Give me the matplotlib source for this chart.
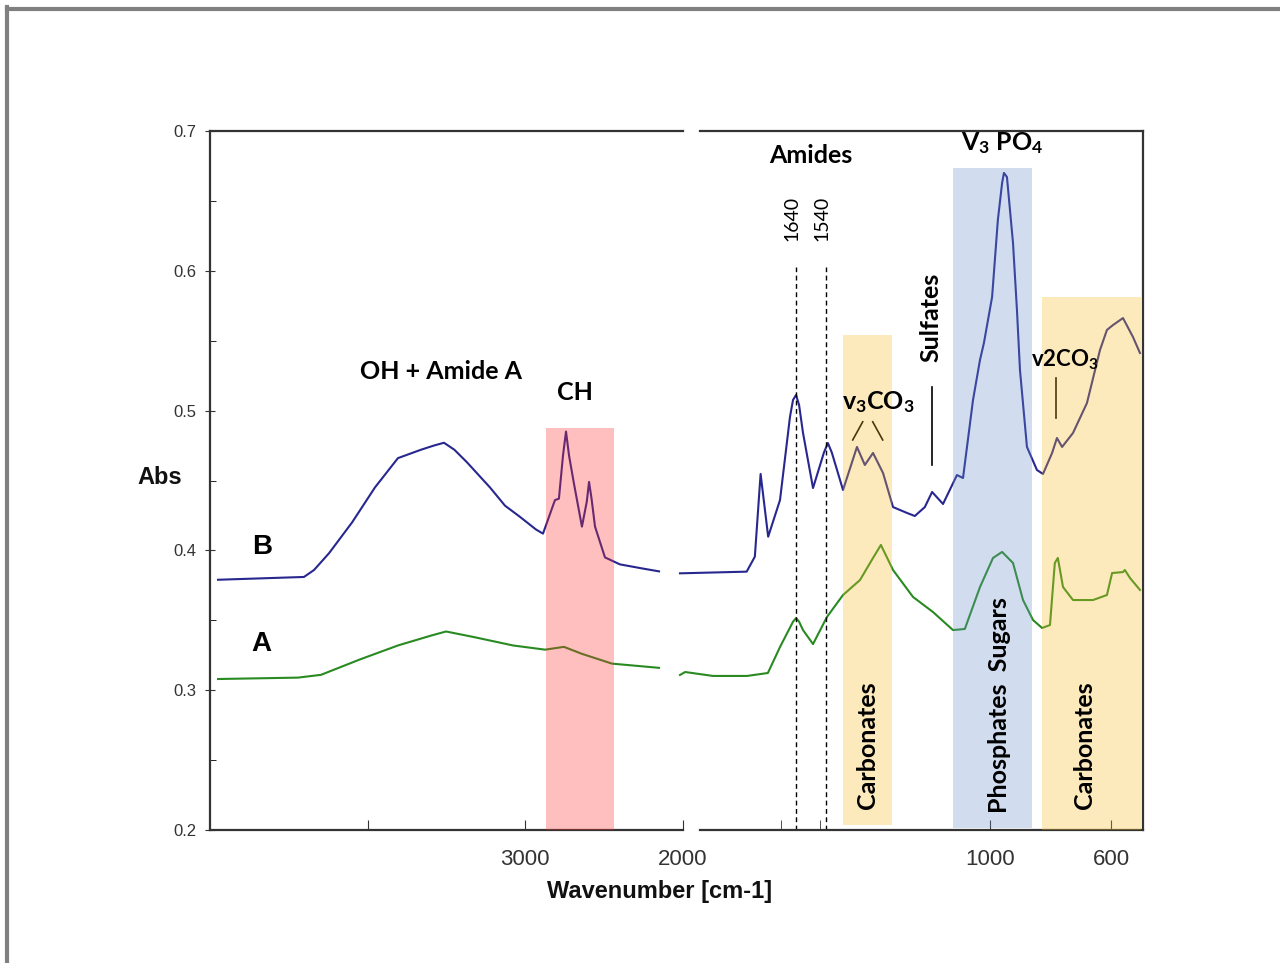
import matplotlib
matplotlib.use("Agg")
import matplotlib.pyplot as plt
from matplotlib.lines import Line2D

plt.rcParams['font.family'] = ['Liberation Sans', 'DejaVu Sans']
plt.rcParams['mathtext.default'] = 'regular'

# spectra, high wavenumber part (cm-1 / absorbance)
wn_hi = [4949, 4404, 4340, 4245, 4099, 3954, 3808, 3662, 3580, 3516, 3450, 3370, 3224, 3129,
         3034, 2933, 2888, 2812, 2787, 2761, 2742, 2723, 2692, 2641, 2610, 2596, 2580, 2558,
         2495, 2400, 2254, 2152]
b_hi = [0.379, 0.381, 0.386, 0.398, 0.420, 0.445, 0.466, 0.472, 0.475, 0.477, 0.472, 0.463,
        0.445, 0.432, 0.424, 0.415, 0.412, 0.436, 0.437, 0.468, 0.485, 0.468, 0.448, 0.417,
        0.435, 0.449, 0.437, 0.417, 0.395, 0.390, 0.387, 0.385]

wn_a_hi = [4949, 4442, 4296, 4049, 3808, 3600, 3503, 3326, 3078, 2875, 2755, 2641, 2450, 2152]
a_hi = [0.308, 0.309, 0.311, 0.322, 0.332, 0.339, 0.342, 0.338, 0.332, 0.329, 0.331, 0.326,
        0.319, 0.316]

# spectra, fingerprint part
wn_b_lo = [2023, 1803, 1776, 1757, 1732, 1693, 1660, 1650, 1640, 1630, 1617, 1584, 1548, 1535,
           1522, 1485, 1439, 1413, 1386, 1353, 1320, 1274, 1248, 1215, 1191, 1155, 1109, 1089,
           1056, 1033, 1020, 993, 974, 960, 954, 944, 934, 924, 911, 901, 878, 845, 825, 795,
           779, 762, 726, 680, 637, 614, 594, 561, 528, 505]
b_lo = [0.3836, 0.3848, 0.3955, 0.4547, 0.4098, 0.436, 0.4956, 0.5076, 0.5112, 0.5040, 0.484,
        0.4446, 0.4700, 0.4768, 0.4700, 0.4432, 0.474, 0.4611, 0.4697, 0.4554, 0.431, 0.4268,
        0.4246, 0.431, 0.4418, 0.4332, 0.4539, 0.4518, 0.5076, 0.5362, 0.5484, 0.5813, 0.6363,
        0.6628, 0.67, 0.6671, 0.6435, 0.6199, 0.572, 0.529, 0.474, 0.4575, 0.4547, 0.4697,
        0.4804, 0.474, 0.484, 0.5054, 0.5433, 0.5577, 0.5612, 0.5662, 0.5526, 0.5412]

wn_a_lo = [2023, 2006, 1914, 1802, 1733, 1693, 1650, 1640, 1630, 1617, 1584, 1538, 1485, 1429,
           1386, 1360, 1320, 1254, 1188, 1122, 1083, 1033, 990, 960, 924, 891, 858, 828, 802,
           786, 776, 759, 726, 660, 614, 597, 561, 555, 538, 505]
a_lo = [0.3109, 0.3130, 0.3102, 0.3102, 0.3123, 0.3309, 0.3490, 0.3516, 0.3490, 0.343, 0.333,
        0.3524, 0.3681, 0.3788, 0.3946, 0.4039, 0.386, 0.3667, 0.3559, 0.343, 0.3438, 0.3738,
        0.3946, 0.3989, 0.391, 0.3645, 0.3502, 0.3445, 0.3466, 0.391, 0.3946, 0.3738, 0.3645,
        0.3645, 0.3681, 0.3838, 0.3845, 0.386, 0.3803, 0.3717]

# shaded regions: (wn start, wn end, abs bottom, abs top)
ch_band = (2869, 2438, 0.2, 0.4875)
carb1_band = (1485, 1323, 0.2035, 0.554)
phos_band = (1122, 861, 0.2014, 0.6735)
carb2_band = (828, 502, 0.2, 0.581)
amide_lines = [1640, 1540]

navy = '#27278f'
green = '#2a8a22'
pink = (1.0, 0.18, 0.18, 0.3)
yellow = (0.973, 0.737, 0.149, 0.3)
blue = (0.41, 0.57, 0.78, 0.3)
lab = dict(family=['Lato', 'DejaVu Sans'], fontweight='bold', fontsize=18)

fig = plt.figure(figsize=(12.8, 9.63), dpi=100)
axL = fig.add_axes([210 / 1280, 133 / 963, 473 / 1280, 699 / 963])
axR = fig.add_axes([700 / 1280, 133 / 963, 443 / 1280, 699 / 963])

for ax in (axL, axR):
    ax.set_ylim(0.2, 0.7)
    ax.spines['top'].set_color('#333333')
    ax.spines['bottom'].set_color('#333333')
    ax.spines['top'].set_linewidth(1.6)
    ax.spines['bottom'].set_linewidth(1.6)
    ax.tick_params(direction='in', colors='#333333', labelcolor='#333333',
                   labelsize=16, pad=14)

axL.set_xlim(5000, 2000)
axR.set_xlim(1957, 495)

# left part
axL.plot(wn_hi, b_hi, color=navy, lw=1.5)
axL.plot(wn_a_hi, a_hi, color=green, lw=1.5)
axL.fill_between(ch_band[:2], ch_band[2], ch_band[3], color=pink, lw=0, zorder=3)
axL.spines['right'].set_visible(False)
axL.spines['left'].set_linewidth(1.6)
axL.spines['left'].set_color('#333333')
axL.set_xticks([4000, 3000, 2000])
axL.set_xticklabels(['', '3000', '2000'])
axL.set_yticks([0.2, 0.3, 0.4, 0.5, 0.6, 0.7])
axL.set_yticks([0.25, 0.35, 0.45, 0.55, 0.65], minor=True)
axL.tick_params(axis='y', which='major', labelsize=12, pad=6, length=7, direction='inout')
axL.tick_params(axis='y', which='minor', length=4, direction='in')
axL.tick_params(axis='x', length=7)

axL.text(3535, 0.528, 'OH + Amide A', ha='center', va='center', **lab)
axL.text(2685, 0.5126, 'CH', ha='center', va='center', **lab)
axL.text(4670, 0.4024, 'B', ha='center', va='center', fontsize=20, fontweight='bold')
axL.text(4677, 0.333, 'A', ha='center', va='center', fontsize=20, fontweight='bold')

# right part
axR.plot(wn_b_lo, b_lo, color=navy, lw=1.5, clip_on=False)
axR.plot(wn_a_lo, a_lo, color=green, lw=1.5, clip_on=False)
for band, col in [(carb1_band, yellow), (phos_band, blue), (carb2_band, yellow)]:
    axR.fill_between(band[:2], band[2], band[3], color=col, lw=0, zorder=3)
for w in amide_lines:
    axR.plot([w, w], [0.2, 0.6027], color='black', lw=1, ls=(0, (3.5, 2.5)))
    axR.text(w + 13, 0.6378, str(w), rotation=90, ha='center', va='center',
             family=['Lato', 'DejaVu Sans'], fontsize=14)
axR.spines['left'].set_visible(False)
axR.spines['right'].set_linewidth(1.6)
axR.spines['right'].set_color('#333333')
axR.set_yticks([])
axR.set_xticks([1000, 600])
axR.set_xticks([1690, 1560], minor=True)
axR.tick_params(axis='x', which='major', length=7)
axR.tick_params(axis='x', which='minor', length=7, direction='in', colors='#333333')

axR.text(1591, 0.6828, 'Amides', ha='center', va='center', **lab)
axR.text(960, 0.6914, 'V$_3$ PO$_4$', ha='center', va='center', **lab)
axR.text(1195, 0.567, 'Sulfates', rotation=90, ha='center', va='center', **lab)
axR.plot([1191, 1191], [0.5169, 0.4611], color='black', lw=1.2)
axR.text(1370, 0.506, 'v$_3$CO$_3$', ha='center', va='center', **lab)
axR.plot([1420, 1453], [0.492, 0.479], color='black', lw=1.2)
axR.plot([1387, 1354], [0.492, 0.479], color='black', lw=1.2)
axR.text(752, 0.5362, 'v2CO$_3$', ha='center', va='center',
         family=['Lato', 'DejaVu Sans'], fontweight='bold', fontsize=16)
axR.plot([782, 782], [0.5233, 0.4947], color='black', lw=1.2)
axR.text(1404, 0.2608, 'Carbonates', rotation=90, ha='center', va='center', zorder=4, **lab)
axR.text(970, 0.2894, 'Phosphates  Sugars', rotation=90, ha='center', va='center', zorder=4, **lab)
axR.text(687, 0.2608, 'Carbonates', rotation=90, ha='center', va='center', zorder=4, **lab)

fig.text(660 / 1280, 1 - 891 / 963, 'Wavenumber [cm-1]', ha='center', va='center',
         fontsize=17, fontweight='bold', color='#111111')
fig.text(160 / 1280, 1 - 477 / 963, 'Abs', ha='center', va='center',
         fontsize=17, fontweight='bold', color='#111111')

# grey frame around the picture
fig.add_artist(Line2D([7 / 1280, 7 / 1280], [0, 1 - 7 / 963], color='#808080', lw=3,
                      transform=fig.transFigure))
fig.add_artist(Line2D([7 / 1280, 1], [1 - 9 / 963, 1 - 9 / 963], color='#808080', lw=3,
                      transform=fig.transFigure))

fig.savefig('out.png', dpi=100)
